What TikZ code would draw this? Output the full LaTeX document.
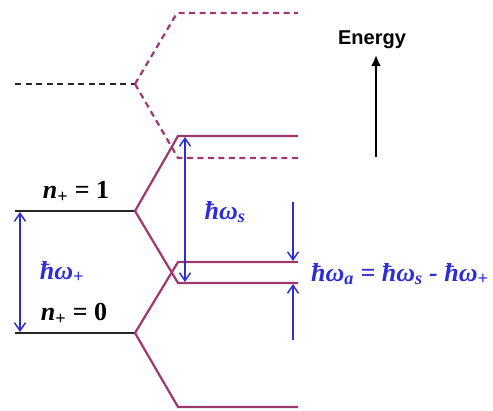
\documentclass[tikz,border=0pt]{standalone}
\usepackage{fontspec}
\setmainfont{Liberation Serif}
\newfontfamily\energyfont{Liberation Sans}
\usetikzlibrary{arrows.meta}
\definecolor{lvl}{RGB}{160,55,110}
\definecolor{bl}{RGB}{45,45,215}
\newcommand\hwsub[1]{ħω\textsubscript{#1}}
\begin{document}
\begin{tikzpicture}[x=1pt,y=-1pt,
  blk/.style={line width=2.2pt, black!85},
  mag/.style={line width=2.2pt, lvl},
  magd/.style={mag, dash pattern=on 6pt off 4.5pt},
  blkd/.style={line width=2pt, black!85, dash pattern=on 6pt off 4.5pt},
  barb/.tip={Straight Barb[length=8pt,width=11pt,line width=1.5pt]},
  barr/.style={line width=1.5pt, bl},
  lab/.style={font=\fontsize{26}{28}\selectfont\bfseries\itshape, text=bl, inner sep=0pt},
  nlab/.style={font=\fontsize{26}{28}\selectfont\bfseries, text=black, inner sep=0pt}
]
\useasboundingbox (0,0) rectangle (493,410);
% upper dashed levels
\coordinate (u0) at (15,84);
\coordinate (u1) at (135,84);
\coordinate (ua) at (177,13);
\coordinate (ub) at (298,13);
\coordinate (uc) at (178,158);
\coordinate (ud) at (298,158);
% n=1 levels
\coordinate (a0) at (15,211);
\coordinate (a1) at (135,211);
\coordinate (a2) at (178,136);
\coordinate (a3) at (298,136);
\coordinate (a4) at (178,283);
\coordinate (a5) at (298,283);
% n=0 levels
\coordinate (b0) at (15,333);
\coordinate (b1) at (135,333);
\coordinate (b2) at (178,262);
\coordinate (b3) at (298,262);
\coordinate (b4) at (178,407);
\coordinate (b5) at (298,407);

\draw[blkd] (u0) -- (u1);
\draw[magd] (u1) -- (ua) -- (ub);
\draw[magd] (u1) -- (uc) -- (ud);

\draw[blk] (a0) -- (a1);
\draw[mag] (a1) -- (a2) -- (a3);
\draw[mag] (a1) -- (a4) -- (a5);

\draw[blk] (b0) -- (b1);
\draw[mag] (b1) -- (b2) -- (b3);
\draw[mag] (b1) -- (b4) -- (b5);

% blue arrows
\coordinate (p1) at (20,212);
\coordinate (p0) at (20,332);
\draw[barr, barb-barb] (p1) -- (p0);
\coordinate (s1) at (185,137);
\coordinate (s0) at (185,282);
\draw[barr, barb-barb] (s1) -- (s0);
\coordinate (t0) at (293,202);
\coordinate (t1) at (293,261);
\draw[barr, -barb] (t0) -- (t1);
\coordinate (r0) at (293,340);
\coordinate (r1) at (293,284);
\draw[barr, -barb] (r0) -- (r1);

% energy arrow
\coordinate (e0) at (376,157);
\coordinate (e1) at (376,55);
\draw[line width=2.2pt, -{Latex[length=11pt,width=10pt]}] (e0) -- (e1);
\node[font=\energyfont\fontsize{20}{22}\selectfont\bfseries, inner sep=0pt] (en) at (372,40) {Energy};

% labels
\node[nlab] (n1) at (76,192) {\textit{n}\textsubscript{+} = 1};
\node[nlab] (n0) at (74,314) {\textit{n}\textsubscript{+} = 0};
\node[lab] (lp) at (62,272) {\hwsub{+}};
\node[lab] (ls) at (225,212) {\hwsub{s}};
\node[lab, anchor=west] (la) at (311,274) {\hwsub{a} = \hwsub{s} - \hwsub{+}};
\end{tikzpicture}
\end{document}
